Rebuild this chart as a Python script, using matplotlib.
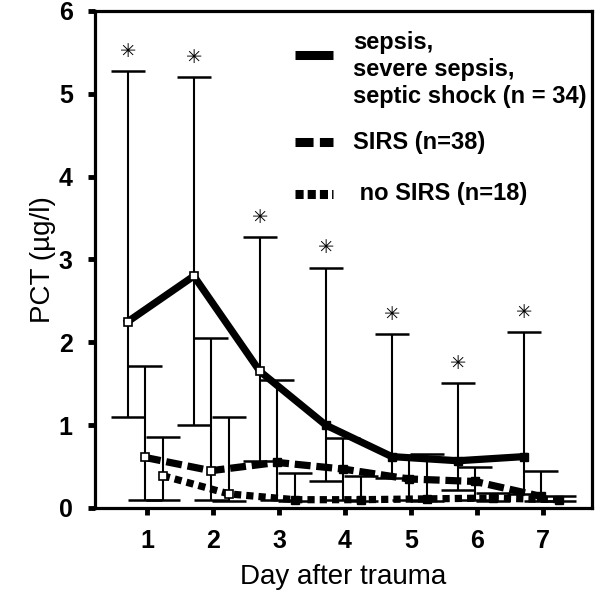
import matplotlib
matplotlib.use("Agg")
from matplotlib import pyplot as plt

plt.rcParams['font.family'] = ['Liberation Sans', 'DejaVu Sans']

days = [1, 2, 3, 4, 5, 6, 7]

# sepsis / severe sepsis / septic shock: median with lower and upper bar ends
sepsis_med = [2.25, 2.80, 1.65, 1.00, 0.62, 0.57, 0.62]
sepsis_lo = [1.10, 1.00, 0.57, 0.33, 0.36, 0.22, 0.17]
sepsis_hi = [5.27, 5.20, 3.27, 2.90, 2.10, 1.51, 2.12]

# SIRS
sirs_med = [0.61, 0.45, 0.55, 0.47, 0.35, 0.32, 0.14]
sirs_lo = [0.10, 0.10, 0.10, 0.10, 0.10, 0.10, 0.08]
sirs_hi = [1.71, 2.05, 1.55, 0.85, 0.62, 0.50, 0.45]

# no SIRS
nosirs_med = [0.39, 0.17, 0.10, 0.10, 0.11, 0.12, 0.10]
nosirs_lo = [0.10, 0.08, 0.08, 0.08, 0.08, 0.08, 0.08]
nosirs_hi = [0.86, 1.10, 0.42, 0.38, 0.65, 0.18, 0.15]

yticks = [0, 1, 2, 3, 4, 5, 6]

fig = plt.figure(figsize=(6, 5.96), dpi=100)
ax = fig.add_axes([0.1583, 0.1477, 0.8283, 0.8339])

series = [
    (sepsis_med, sepsis_lo, sepsis_hi, -0.29, '-', 3),
    (sirs_med, sirs_lo, sirs_hi, -0.03, (0, (2.2, 0.8)), 2),
    (nosirs_med, nosirs_lo, nosirs_hi, 0.24, (0, (1.0, 0.7)), 2),
]

for med, lo, hi, off, ls, n_open in series:
    xs = [d + off for d in days]
    err = [[m - l for m, l in zip(med, lo)], [h - m for h, m in zip(hi, med)]]
    ax.errorbar(xs, med, yerr=err, fmt='none', ecolor='black',
                elinewidth=1.5, capsize=12, capthick=1.8, zorder=2)
    ax.plot(xs, med, color='black', lw=5.2, ls=ls, zorder=3)
    # small square markers, open on the first days
    ax.plot(xs[:n_open], med[:n_open], ls='none', marker='s', ms=6,
            mfc='white', mec='black', mew=1.2, zorder=4)
    ax.plot(xs[n_open:], med[n_open:], ls='none', marker='s', ms=6,
            mfc='black', mec='black', zorder=4)

# significance stars above the sepsis bars
for d, h in zip(days, sepsis_hi):
    ax.text(d - 0.29, h + 0.24, '\u2733', ha='center', va='center',
            fontsize=14, family='DejaVu Sans')

# hand drawn legend
lx = [0.402, 0.479]
ax.plot(lx, [0.911, 0.911], transform=ax.transAxes, color='black', lw=6.5,
        solid_capstyle='butt')
ax.plot(lx, [0.736, 0.736], transform=ax.transAxes, color='black', lw=6.5,
        ls=(0, (2.0, 0.7)))
ax.plot(lx, [0.632, 0.632], transform=ax.transAxes, color='black', lw=6.5,
        ls=(0, (0.9, 0.45)))
ax.text(0.519, 0.883, 'sepsis,\nsevere sepsis,\nseptic shock (n = 34)',
        transform=ax.transAxes, fontsize=17, fontweight='bold',
        va='center', ha='left', linespacing=1.22)
ax.text(0.519, 0.736, 'SIRS (n=38)', transform=ax.transAxes, fontsize=17,
        fontweight='bold', va='center', ha='left')
ax.text(0.519, 0.632, ' no SIRS (n=18)', transform=ax.transAxes, fontsize=17,
        fontweight='bold', va='center', ha='left')

ax.set_xlim(0.212, 7.742)
ax.set_ylim(0, 6)
ax.set_xticks(days)
ax.set_yticks(yticks)
for lab in ax.get_xticklabels() + ax.get_yticklabels():
    lab.set_fontweight('bold')
ax.tick_params(axis='both', direction='out', length=5, width=3.5,
               labelsize=18)
ax.tick_params(axis='y', pad=11)
ax.tick_params(axis='x', pad=10)
for sp in ax.spines.values():
    sp.set_linewidth(2.3)

ax.set_xlabel('Day after trauma', fontsize=20, labelpad=8)
ax.set_ylabel('PCT (µg/l)', fontsize=20, labelpad=2)

fig.savefig('out.png', dpi=100)
